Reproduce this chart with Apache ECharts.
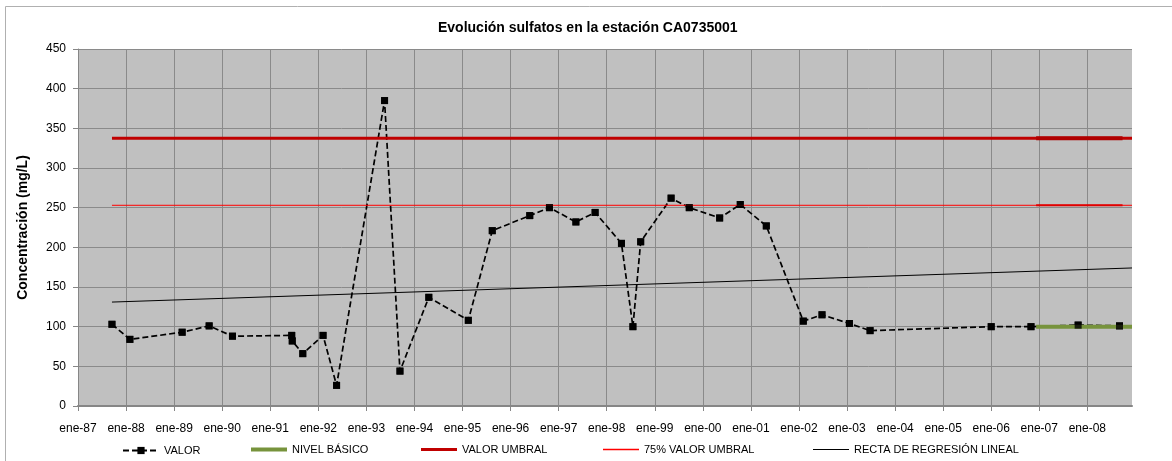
<!DOCTYPE html>
<html><head><meta charset="utf-8">
<script src="https://cdn.jsdelivr.net/npm/echarts@6/dist/echarts.min.js"></script>
<style>html,body{margin:0;padding:0;background:#fff}#c{width:1172px;height:461px}</style>
</head><body><div id="c"></div>
<script>
// ---- data ----
const sampleDates = ['1987-09-16','1988-01-30','1989-03-03','1989-09-24','1990-03-20','1991-06-13','1991-06-17','1991-09-05','1992-02-06','1992-05-19','1993-05-19','1993-09-13','1994-04-20','1995-02-14','1995-08-15','1996-05-26','1996-10-23','1997-05-12','1997-10-05','1998-04-23','1998-07-19','1998-09-16','1999-05-05','1999-09-20','2000-05-08','2000-10-12','2001-04-28','2002-02-03','2002-06-25','2003-01-19','2003-06-25','2006-01-01','2006-10-30','2007-10-23','2008-09-02'];
const valor = [103,84,93,101,88,89,82,66,89,26,385,44,137,108,221,240,250,232,244,205,100,207,262,250,237,254,227,107,115,104,95,100,100,102,101];
const yearLabels = ['ene-87','ene-88','ene-89','ene-90','ene-91','ene-92','ene-93','ene-94','ene-95','ene-96','ene-97','ene-98','ene-99','ene-00','ene-01','ene-02','ene-03','ene-04','ene-05','ene-06','ene-07','ene-08'];
const axisStart = '1987-01-01';
const axisEnd = '2008-12-06';
const nivelBasico = 100;
const nivelBasicoStart = '2006-12-08';
const valorUmbral = 337.5;
const umbral75 = 253;
const highlightRange = ['2006-12-08','2008-09-25'];
const regressionDates = ['1987-09-16', axisEnd];
const regressionValues = [131, 174];

// ---- helpers ----
function toYear(s){
  const d = Date.parse(s + 'T00:00:00Z');
  const y = new Date(d).getUTCFullYear();
  const a = Date.UTC(y,0,1), b = Date.UTC(y+1,0,1);
  return y + (d - a) / (b - a);
}
const xMin = toYear(axisStart), xMax = toYear(axisEnd);
const firstYear = 1987;
const yearTickValues = yearLabels.map((_, i) => firstYear + i);
const valorData = sampleDates.map((d, i) => [toYear(d), valor[i]]);
const font = 'Liberation Sans, Arial, sans-serif';
const gridColor = '#8a8a8a';

const chart = echarts.init(document.getElementById('c'), null, {renderer:'canvas'});
const legendBase = {
  orient:'horizontal', top:444, itemWidth:36, itemGap:5, padding:0,
  textStyle:{fontFamily:font, fontSize:11, color:'#000'}, selectedMode:false
};
chart.setOption({
  animation:false,
  backgroundColor:'#fff',
  graphic:[{type:'rect', shape:{x:5.5, y:6.5, width:1300, height:600}, style:{fill:null, stroke:'#b0b0b0', lineWidth:1}, silent:true, z:-10}],
  title:{text:'Evolución sulfatos en la estación CA0735001', left:438, top:21, padding:0,
    textStyle:{fontFamily:font, fontSize:14, fontWeight:'bold', color:'#000'}},
  grid:{left:78, right:40, top:49, bottom:55, show:true, backgroundColor:'#c0c0c0', borderWidth:0, containLabel:false},
  legend:[
    Object.assign({}, legendBase, {left:122, top:445, itemHeight:9, data:['VALOR']}),
    Object.assign({}, legendBase, {left:251, itemHeight:4, data:[{name:'NIVEL BÁSICO', icon:'rect', itemStyle:{color:'#77933c'}}]}),
    Object.assign({}, legendBase, {left:421, itemHeight:3, data:[{name:'VALOR UMBRAL', icon:'rect', itemStyle:{color:'#c00000'}}]}),
    Object.assign({}, legendBase, {left:603, itemHeight:1.5, data:[{name:'75% VALOR UMBRAL', icon:'rect', itemStyle:{color:'#ff0000', borderWidth:0}}]}),
    Object.assign({}, legendBase, {left:813, itemHeight:1.2, data:[{name:'RECTA DE REGRESIÓN LINEAL', icon:'rect', itemStyle:{color:'#000', borderWidth:0}}]})
  ],
  xAxis:{
    type:'value', min:xMin, max:xMax, interval:0.5,
    axisLine:{show:true, onZero:false, lineStyle:{color:'#868686', width:2}},
    axisTick:{show:true, length:5, customValues:yearTickValues, lineStyle:{color:'#868686'}},
    axisLabel:{show:true, customValues:yearTickValues, margin:17, fontFamily:font, fontSize:12, color:'#000',
      formatter:v => yearLabels[Math.round(v) - firstYear] || ''},
    splitLine:{show:true, lineStyle:{color:gridColor, width:1}}
  },
  yAxis:{
    type:'value', min:0, max:450, interval:50,
    name:'Concentración (mg/L)', nameLocation:'middle', nameGap:48,
    nameTextStyle:{fontFamily:font, fontSize:14, fontWeight:'bold', color:'#000'},
    axisLine:{show:true, lineStyle:{color:'#868686', width:1}},
    axisTick:{show:true, length:5, lineStyle:{color:'#868686'}},
    axisLabel:{margin:12, fontFamily:font, fontSize:12, color:'#000'},
    splitLine:{show:true, lineStyle:{color:gridColor, width:1}}
  },
  series:[
    {name:'VALOR', type:'line', data:valorData, z:2, symbol:'rect', symbolSize:7, showSymbol:true,
      lineStyle:{color:'#000', width:1.7, type:[6,3]}, itemStyle:{color:'#000'}, silent:true},
    {name:'NIVEL BÁSICO', type:'line', data:[[toYear(nivelBasicoStart), nivelBasico],[xMax, nivelBasico]], z:3,
      symbol:'none', lineStyle:{color:'#77933c', width:4}, itemStyle:{color:'#77933c'}, silent:true},
    {name:'VALOR UMBRAL', type:'line', data:[[toYear(sampleDates[0]), valorUmbral],[xMax, valorUmbral]], z:3,
      symbol:'none', lineStyle:{color:'#c00000', width:3}, itemStyle:{color:'#c00000'}, silent:true},
    {name:'umbral-tramo', type:'line', data:[[toYear(highlightRange[0]), valorUmbral],[toYear(highlightRange[1]), valorUmbral]], z:3,
      symbol:'none', lineStyle:{color:'#b00000', width:4}, silent:true},
    {name:'75% VALOR UMBRAL', type:'line', data:[[toYear(sampleDates[0]), umbral75],[xMax, umbral75]], z:3,
      symbol:'none', lineStyle:{color:'#ff0000', width:1}, itemStyle:{color:'#ff0000'}, silent:true},
    {name:'umbral75-tramo', type:'line', data:[[toYear(highlightRange[0]), umbral75],[toYear(highlightRange[1]), umbral75]], z:3,
      symbol:'none', lineStyle:{color:'#e00000', width:2}, silent:true},
    {name:'RECTA DE REGRESIÓN LINEAL', type:'line', data:regressionDates.map((d,i)=>[toYear(d), regressionValues[i]]), z:3,
      symbol:'none', lineStyle:{color:'#000', width:1}, itemStyle:{color:'#000'}, silent:true},
    {name:'valor-marcas', type:'scatter', data:valorData, z:4, symbol:'rect', symbolSize:7, itemStyle:{color:'#000'}, silent:true}
  ]
});
</script>
</body></html>
